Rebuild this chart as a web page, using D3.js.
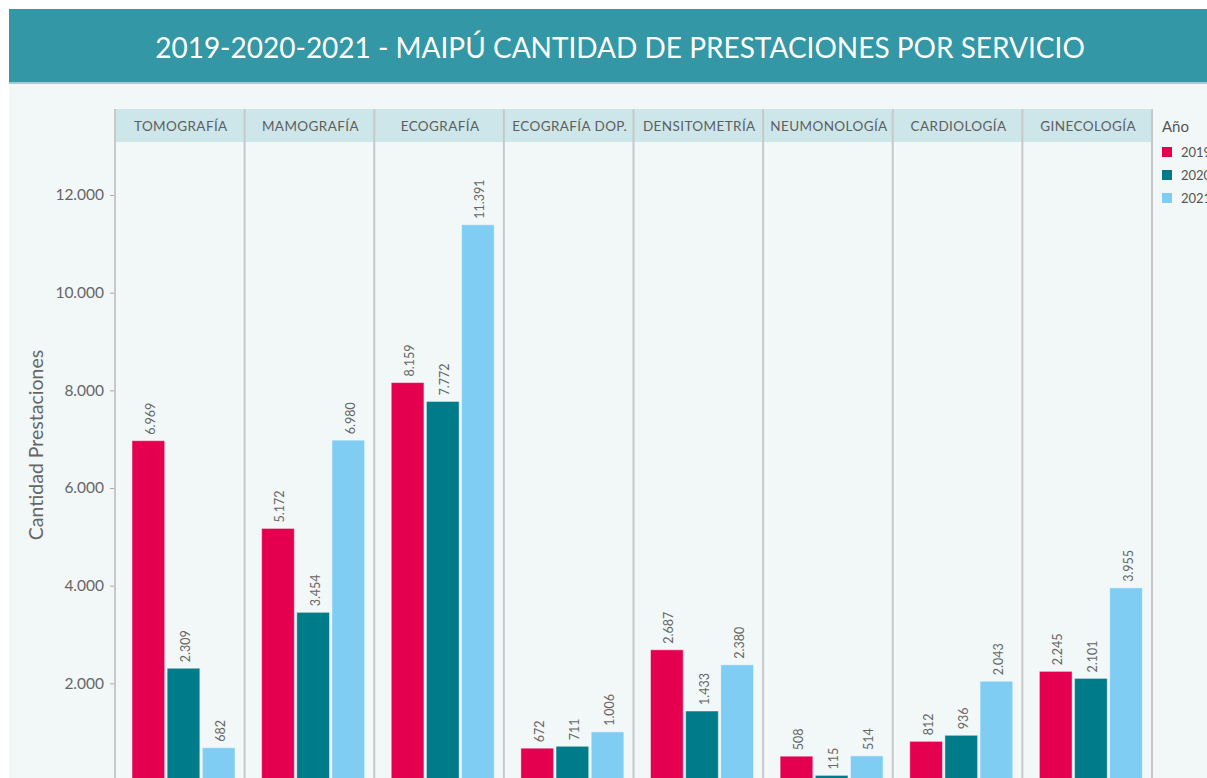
<!DOCTYPE html>
<html>
<head>
<meta charset="utf-8">
<script src="https://cdnjs.cloudflare.com/ajax/libs/d3/7.8.5/d3.min.js"></script>
<style>
  body { margin: 0; background: #ffffff; }
  svg { display: block; font-family: Lato, "Open Sans", sans-serif; }
</style>
</head>
<body>
<div id="container"></div>
<script>
var w = 1207;
var h = 778;

// datos
var servicios = ["TOMOGRAFÍA", "MAMOGRAFÍA", "ECOGRAFÍA", "ECOGRAFÍA DOP.", "DENSITOMETRÍA", "NEUMONOLOGÍA", "CARDIOLOGÍA", "GINECOLOGÍA"];
var anios = ["2019", "2020", "2021"];
var v2019 = [6969, 5172, 8159, 672, 2687, 508, 812, 2245];
var v2020 = [2309, 3454, 7772, 711, 1433, 115, 936, 2101];
var v2021 = [682, 6980, 11391, 1006, 2380, 514, 2043, 3955];
var ticks = [2000, 4000, 6000, 8000, 10000, 12000];
var colores = ["#e4004f", "#007b8a", "#80cdf3"];

var series = [v2019, v2020, v2021];

var loc = d3.formatLocale({decimal: ",", thousands: ".", grouping: [3], currency: ["$", ""]});
var fmt = loc.format(",d");

var svg = d3.select("div#container").append("svg")
  .attr("width", w).attr("height", h);

// fondo
svg.append("rect").attr("x", 9).attr("y", 9).attr("width", w - 9).attr("height", h - 9)
  .attr("fill", "#f2f7f7");

// banner titulo
svg.append("rect").attr("x", 9).attr("y", 9).attr("width", w - 9).attr("height", 73)
  .attr("fill", "#3397a5");
svg.append("rect").attr("x", 9).attr("y", 82).attr("width", w - 9).attr("height", 2)
  .attr("fill", "#9fcfd6");
svg.append("text")
  .attr("x", 620).attr("y", 58)
  .attr("text-anchor", "middle")
  .attr("fill", "#ffffff")
  .style("font-size", "28px")
  .text("2019-2020-2021 - MAIPÚ CANTIDAD DE PRESTACIONES POR SERVICIO");

var x0 = d3.scaleBand().domain(servicios).range([115, 1152]);
var x1 = d3.scaleBand().domain(anios).range([17, 120]).paddingInner(0.07);
var y = d3.scaleLinear().domain([0, 12000]).range([781, 195]);

var stripTop = 109, stripBot = 142;

// cabeceras
var panel = svg.selectAll("g.panel")
  .data(servicios)
  .enter().append("g")
  .attr("class", "panel")
  .attr("transform", function(d) { return "translate(" + x0(d) + ",0)"; });

panel.append("rect")
  .attr("x", 0).attr("y", stripTop)
  .attr("width", x0.bandwidth()).attr("height", stripBot - stripTop)
  .attr("fill", "#cde6ea");

panel.append("text")
  .attr("x", x0.bandwidth() / 2 + 1).attr("y", 131)
  .attr("text-anchor", "middle")
  .attr("fill", "#5e5e5e")
  .style("font-size", "13.5px")
  .style("letter-spacing", "0.4px")
  .text(function(d) { return d; });

// barras
panel.each(function(d, i) {
  var g = d3.select(this);
  var vals = anios.map(function(a, j) { return {anio: a, v: series[j][i], c: colores[j]}; });
  g.selectAll("rect.bar")
    .data(vals)
    .enter().append("rect")
    .attr("class", "bar")
    .attr("x", function(e) { return x1(e.anio); })
    .attr("width", x1.bandwidth())
    .attr("y", function(e) { return y(e.v); })
    .attr("height", function(e) { return y(0) - y(e.v); })
    .attr("fill", function(e) { return e.c; })
    .attr("stroke", "rgba(255,255,255,0.45)")
    .attr("stroke-width", 1);
  g.selectAll("text.lbl")
    .data(vals)
    .enter().append("text")
    .attr("class", "lbl")
    .attr("transform", function(e) {
      var cx = x1(e.anio) + x1.bandwidth() / 2 + 2;
      return "translate(" + cx + "," + (y(e.v) - 6) + ") rotate(-90)";
    })
    .attr("dominant-baseline", "central")
    .attr("fill", "#666")
    .style("font-size", "12.5px")
    .text(function(e) { return fmt(e.v); });
});

// lineas separadoras
svg.selectAll("line.sep")
  .data(servicios.concat(["fin"]))
  .enter().append("line")
  .attr("class", "sep")
  .attr("x1", function(d) { return d === "fin" ? 1152 : x0(d); })
  .attr("x2", function(d) { return d === "fin" ? 1152 : x0(d); })
  .attr("y1", stripTop).attr("y2", h)
  .attr("stroke", "#c8c8c8")
  .attr("stroke-width", 2);

// eje y
var ax = svg.append("g")
  .attr("transform", "translate(114,0)")
  .call(d3.axisLeft(y).tickValues(ticks).tickSize(4).tickPadding(6).tickFormat(fmt));
ax.select(".domain").remove();
ax.selectAll(".tick line").attr("stroke", "#aaa");
ax.selectAll(".tick text").attr("fill", "#666").style("font-size", "15.5px").style("font-family", "Lato, sans-serif");

svg.append("text")
  .attr("transform", "translate(43,445) rotate(-90)")
  .attr("text-anchor", "middle")
  .attr("fill", "#666")
  .style("font-size", "19.5px")
  .text("Cantidad Prestaciones");

// leyenda
svg.append("text")
  .attr("x", 1162).attr("y", 132)
  .attr("fill", "#555")
  .style("font-size", "15px")
  .text("Año");

var leg = svg.selectAll("g.leg")
  .data(anios)
  .enter().append("g")
  .attr("class", "leg")
  .attr("transform", function(d, i) { return "translate(1162," + (147 + i * 23) + ")"; });
leg.append("rect").attr("width", 10).attr("height", 10)
  .attr("fill", function(d, i) { return colores[i]; });
leg.append("text").attr("x", 19).attr("y", 5)
  .attr("dominant-baseline", "central")
  .attr("fill", "#555")
  .style("font-size", "13px")
  .text(function(d) { return d; });
</script>
</body>
</html>
